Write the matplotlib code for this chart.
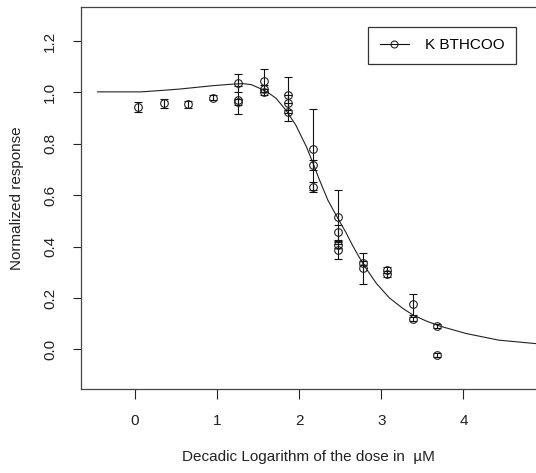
import matplotlib
matplotlib.use('Agg')
import matplotlib.pyplot as plt
from matplotlib.lines import Line2D

plt.rcParams['font.family'] = ['Liberation Sans', 'DejaVu Sans']

# observed points (log10 dose, normalized response, error)
dose = [0.04, 0.356, 0.65, 0.954,
        1.258, 1.258, 1.258,
        1.57, 1.57, 1.57,
        1.86, 1.86, 1.86,
        2.17, 2.17, 2.17,
        2.47, 2.47, 2.47, 2.47,
        2.78, 2.78,
        3.07, 3.07,
        3.38, 3.38,
        3.68, 3.68]
resp = [0.942, 0.957, 0.954, 0.979,
        1.035, 0.970, 0.962,
        1.045, 1.015, 1.000,
        0.990, 0.960, 0.925,
        0.778, 0.717, 0.633,
        0.516, 0.455, 0.406, 0.386,
        0.335, 0.315,
        0.308, 0.295,
        0.175, 0.118,
        0.090, -0.023]
err = [0.020, 0.016, 0.014, 0.010,
       0.035, 0.055, 0.012,
       0.045, 0.015, 0.012,
       0.070, 0.030, 0.035,
       0.158, 0.020, 0.020,
       0.105, 0.030, 0.012, 0.035,
       0.008, 0.062,
       0.012, 0.012,
       0.040, 0.008,
       0.008, 0.008]

# fitted curve
fit_x = [-0.45, 0.08, 0.39, 0.55, 0.95, 1.19, 1.32, 1.42, 1.52, 1.62, 1.72, 1.84, 1.96,
         2.09, 2.17, 2.25, 2.35, 2.42, 2.49, 2.57, 2.65, 2.72, 2.80, 2.94, 3.10,
         3.26, 3.38, 3.55, 3.71, 4.03, 4.43, 4.90]
fit_y = [1.002, 1.002, 1.009, 1.013, 1.026, 1.032, 1.034, 1.030, 1.016, 1.000, 0.977, 0.931, 0.873,
         0.788, 0.724, 0.658, 0.581, 0.540, 0.500, 0.455, 0.405, 0.365, 0.322, 0.257, 0.200,
         0.160, 0.135, 0.110, 0.091, 0.062, 0.036, 0.022]

fig = plt.figure(figsize=(5.36, 4.73), dpi=100)
ax = fig.add_axes([80.7/536, 1-389/473, 1-80.7/536+0.002, (389-7.3)/473])

ax.plot(fit_x, fit_y, color='#222222', lw=0.8)
ax.errorbar(dose, resp, yerr=err, fmt='o', mfc='none', mec='#222222', ms=5.5, mew=0.8,
            ecolor='#111111', elinewidth=0.8, capsize=3.2, capthick=0.8)

ax.set_xlim(-0.656, 4.895)
ax.set_ylim(-0.154, 1.331)
ax.set_xticks([0, 1, 2, 3, 4])
ax.set_yticks([0.0, 0.2, 0.4, 0.6, 0.8, 1.0, 1.2])
ax.set_yticklabels(['0.0', '0.2', '0.4', '0.6', '0.8', '1.0', '1.2'], rotation=90, va='center')
ax.tick_params(axis='x', length=7, width=0.8, pad=11, labelsize=11, colors='#222222')
ax.tick_params(axis='y', length=6, width=0.8, pad=11, labelsize=11, colors='#222222')
for s in ax.spines.values():
    s.set_linewidth(0.9)
    s.set_color('#444444')

ax.set_xlabel('Decadic Logarithm of the dose in  µM', fontsize=11, labelpad=16, color='#222222')
ax.set_ylabel('Normalized response', fontsize=11, labelpad=14, color='#222222')

h = Line2D([], [], color='#111111', lw=0.8, marker='o', mfc='none', mec='#222222', ms=5, mew=0.8)
leg = fig.legend([h], ['K BTHCOO'], loc='upper right', bbox_to_anchor=(516/536, 1-27/473),
                 fancybox=False, edgecolor='#333333', framealpha=1, fontsize=11,
                 handlelength=1.9, borderpad=0.75, handletextpad=1.05, borderaxespad=0)
leg.get_frame().set_linewidth(0.9)

fig.savefig('out.png', dpi=100)
